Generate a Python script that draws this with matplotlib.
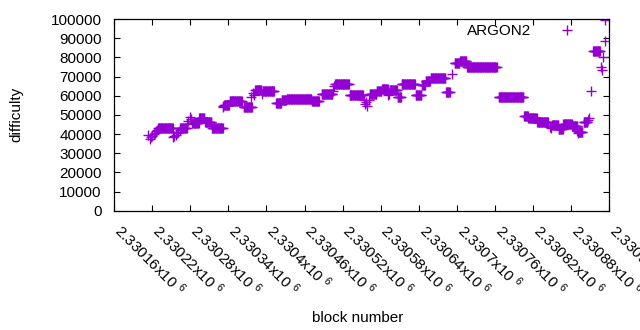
import matplotlib
matplotlib.use("Agg")
import matplotlib.pyplot as plt
import matplotlib.transforms as mtransforms
import numpy as np

plt.rcParams['font.family'] = ['Liberation Sans', 'DejaVu Sans']
plt.rcParams['font.size'] = 11
plt.rcParams['mathtext.fontset'] = 'custom'
plt.rcParams['mathtext.rm'] = 'Liberation Sans'
plt.rcParams['mathtext.default'] = 'regular'

# runs of blocks with constant difficulty: first block, last block, difficulty
run_start = [2330229, 2330264, 2330283, 2330294, 2330303, 2330314, 2330333, 2330342,
             2330364, 2330382, 2330394, 2330415, 2330424, 2330432, 2330472, 2330487,
             2330508, 2330531, 2330563, 2330574, 2330582, 2330594, 2330607, 2330613,
             2330635, 2330645, 2330651, 2330659, 2330683, 2330697, 2330705, 2330716,
             2330766, 2330806, 2330813, 2330827, 2330850, 2330861, 2330868, 2330882,
             2330892, 2330900, 2330915]
run_end = [2330252, 2330274, 2330293, 2330302, 2330313, 2330331, 2330341, 2330361,
           2330377, 2330392, 2330412, 2330423, 2330431, 2330471, 2330483, 2330504,
           2330530, 2330552, 2330573, 2330581, 2330591, 2330606, 2330612, 2330634,
           2330644, 2330650, 2330658, 2330682, 2330689, 2330704, 2330715, 2330763,
           2330805, 2330812, 2330826, 2330844, 2330860, 2330867, 2330881, 2330890,
           2330898, 2330906, 2330926]
run_value = [43000, 43000, 46000, 48200, 46300, 43000, 55100, 57000,
             53900, 63200, 62700, 56000, 57700, 58300, 57200, 60700,
             66100, 60200, 60700, 62700, 63300, 63000, 59300, 65900,
             60600, 65600, 67500, 69100, 61800, 76900, 78100, 74900,
             59200, 49400, 48200, 46500, 44500, 42600, 45100, 44200,
             41200, 46400, 83400]

# single blocks (ramps and stray points)
single_block = [2330214, 2330216, 2330218, 2330220, 2330222, 2330224, 2330226, 2330228,
                2330253, 2330255, 2330257, 2330259, 2330261, 2330263,
                2330275, 2330277, 2330279, 2330281,
                2330331, 2330332, 2330376, 2330379, 2330381, 2330393,
                2330505, 2330506, 2330553, 2330555, 2330557, 2330559, 2330561,
                2330592, 2330593, 2330692,
                2330847, 2330849, 2330889, 2330891, 2330907, 2330908,
                2330911, 2330927, 2330929, 2330931, 2330933, 2330934]
single_value = [39500, 37600, 38300, 39000, 39800, 40600, 41400, 42200,
                38300, 38900, 39600, 40400, 41300, 42200,
                45000, 47000, 49000, 48000,
                54000, 54500, 59500, 61500, 60500, 60900,
                62600, 65000, 57500, 55500, 56500, 54800, 57800,
                60300, 61000, 71300,
                43800, 43000, 41700, 40700, 47300, 48200,
                62600, 75000, 73300, 80300, 88700, 99500]

blocks = []
values = []
for s, e, v in zip(run_start, run_end, run_value):
    for b in range(s, e + 1):
        blocks.append(b)
        values.append(v)
blocks += single_block
values += single_value

xticks = np.arange(2330160, 2330941, 60)
xticklabels = ["%.6gx10 $^{6}$" % (t / 1e6) for t in xticks]

fig = plt.figure(figsize=(6.4, 3.3), dpi=100)
ax = fig.add_axes([0.1785, 0.3615, 0.773, 0.5809])
ax.plot(blocks, values, '+', color='#9400d3', ms=6.5, mew=1.0, linestyle='none', label='ARGON2')

ax.set_xlim(2330160, 2330940)
ax.set_ylim(0, 100000)
ax.set_yticks(np.arange(0, 100001, 10000))
ax.set_xticks(xticks)
ax.set_xticklabels(xticklabels, rotation=-45, ha='left', va='top', rotation_mode='anchor')
ax.tick_params(direction='in', length=4.5, width=0.8, top=True, right=True)
ax.tick_params(axis='x', pad=7)
ax.tick_params(axis='y', pad=9)
for sp in ax.spines.values():
    sp.set_linewidth(0.9)

# gnuplot puts the rotated labels to the right of the tick
shift = mtransforms.ScaledTranslation(10 / 100, 0, fig.dpi_scale_trans)
for lab in ax.get_xticklabels():
    lab.set_transform(lab.get_transform() + shift)

ax.set_xlabel("block number")
ax.set_ylabel("difficulty")
ax.xaxis.set_label_coords(0.4927, -0.523)
ax.yaxis.set_label_coords(-0.1838, 0.5)

ax.legend(loc='upper right', bbox_to_anchor=(0.9454, 0.974), borderaxespad=0, borderpad=0,
          frameon=False, markerfirst=False, handlelength=2, handletextpad=1.29)

fig.savefig("out.png", dpi=100)
